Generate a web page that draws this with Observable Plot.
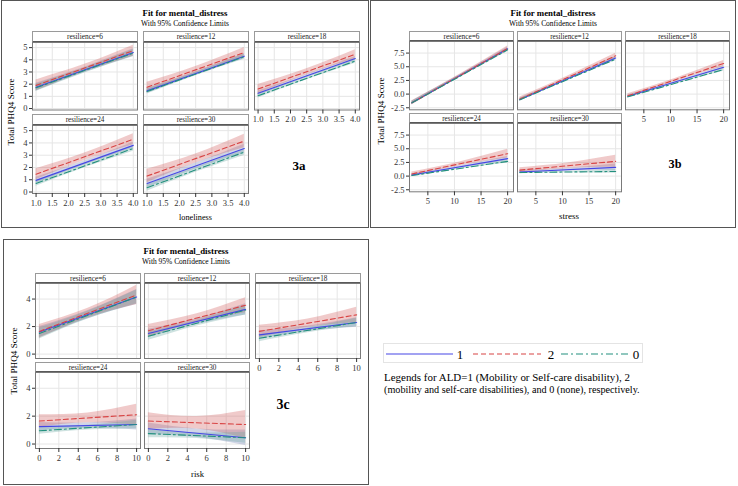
<!DOCTYPE html>
<html><head><meta charset="utf-8">
<script src="https://cdn.jsdelivr.net/npm/d3@7"></script>
<script src="https://cdn.jsdelivr.net/npm/@observablehq/plot@0.6"></script>
<style>
body{margin:0;background:#fff;}
#page{position:relative;width:738px;height:486px;overflow:hidden;font-family:"Liberation Serif","Times New Roman",serif;color:#000;}
.box{position:absolute;border:1px solid #555;box-sizing:border-box;}
.t{position:absolute;white-space:nowrap;transform:translate(-50%,-50%);line-height:1;}
.hdr{position:absolute;box-sizing:border-box;border:1px solid #9a9a9a;border-bottom:2px solid #5a5a5a;background:#fff;font-size:9px;text-align:center;color:#222;}
.abs{position:absolute;}
.abs svg{display:block;overflow:visible;}
.abs svg text{font-family:"Liberation Serif","Times New Roman",serif;}
</style>
</head><body><div id="page"></div>
<script>
// ---------- data ----------
const resilience = [6, 12, 18, 24, 30];
const aldGroups = ["1", "2", "0"];
const aldColors = ["#4646e6", "#d84444", "#23907e"];
const bandColors = ["#6f7eb3", "#d05b5b", "#66a5a0"];
const aldDash = [null, "5,3", "7,3,2,3"];

// Figure 3a: loneliness (fit at x = 1 and x = 4), per resilience
const lonX = [1, 4];
const lonFit1 = [[1.75, 4.6], [1.45, 4.3], [1.25, 4.1], [0.95, 3.8], [0.7, 3.55]];
const lonFit2 = [[1.9, 4.75], [1.75, 4.6], [1.6, 4.45], [1.45, 4.3], [1.3, 4.15]];
const lonFit0 = [[1.7, 4.55], [1.4, 4.25], [1.05, 3.9], [0.7, 3.55], [0.35, 3.25]];
// 95% CL half-widths at start, middle, end
const lonHW1 = [[0.32, 0.22, 0.3], [0.22, 0.15, 0.22], [0.18, 0.12, 0.18], [0.25, 0.17, 0.25], [0.35, 0.24, 0.35]];
const lonHW2 = [[0.45, 0.3, 0.45], [0.4, 0.27, 0.4], [0.38, 0.25, 0.38], [0.45, 0.3, 0.45], [0.55, 0.37, 0.55]];
const lonHW0 = [[0.3, 0.2, 0.3], [0.2, 0.13, 0.2], [0.18, 0.12, 0.18], [0.22, 0.15, 0.22], [0.28, 0.19, 0.28]];

// Figure 3b: stress (fit at x = 2 and x = 20)
const strX = [2, 20];
const strFit1 = [[-1.6, 8.3], [-1.0, 6.6], [-0.4, 4.9], [0.2, 3.2], [0.75, 1.6]];
const strFit2 = [[-1.6, 8.35], [-0.9, 7.0], [-0.3, 5.6], [0.4, 4.1], [1.1, 2.7]];
const strFit0 = [[-1.6, 8.1], [-1.05, 6.4], [-0.5, 4.5], [0.1, 2.7], [0.65, 0.85]];
const strHW1 = [[0.3, 0.2, 0.3], [0.25, 0.16, 0.3], [0.25, 0.16, 0.3], [0.25, 0.2, 0.4], [0.3, 0.25, 0.6]];
const strHW2 = [[0.4, 0.27, 0.45], [0.35, 0.25, 0.45], [0.35, 0.27, 0.55], [0.35, 0.35, 0.8], [0.45, 0.5, 1.1]];
const strHW0 = [[0.3, 0.2, 0.3], [0.25, 0.16, 0.3], [0.2, 0.14, 0.3], [0.2, 0.15, 0.3], [0.2, 0.15, 0.35]];

// Figure 3c: risk (fit at x = 0 and x = 10)
const rskX = [0, 10];
const rskFit1 = [[1.6, 4.15], [1.5, 3.25], [1.4, 2.3], [1.25, 1.4], [1.1, 0.45]];
const rskFit2 = [[1.65, 4.3], [1.7, 3.55], [1.65, 2.85], [1.65, 2.1], [1.65, 1.4]];
const rskFit0 = [[1.5, 4.15], [1.3, 3.2], [1.15, 2.3], [0.95, 1.4], [0.75, 0.45]];
const rskHW1 = [[0.4, 0.3, 0.55], [0.3, 0.2, 0.4], [0.3, 0.2, 0.35], [0.3, 0.2, 0.4], [0.4, 0.3, 0.55]];
const rskHW2 = [[0.5, 0.35, 0.7], [0.45, 0.3, 0.55], [0.45, 0.3, 0.55], [0.45, 0.35, 0.75], [0.6, 0.45, 1.0]];
const rskHW0 = [[0.4, 0.28, 0.5], [0.3, 0.2, 0.35], [0.25, 0.17, 0.3], [0.25, 0.17, 0.3], [0.3, 0.2, 0.4]];

const lonTicks = [1, 1.5, 2, 2.5, 3, 3.5, 4];
const lonYTicks = [0, 1, 2, 3, 4, 5];
const strTicks = [5, 10, 15, 20];
const strYTicks = [-2.5, 0, 2.5, 5, 7.5];
const rskTicks = [0, 2, 4, 6, 8, 10];
const rskYTicks = [0, 2, 4];

const titleText = "Fit for mental_distress";
const subtitleText = "With 95% Confidence Limits";
const yLabelText = "Total PHQ4 Score";
const legendNote = ["Legends for ALD=1 (Mobility or Self-care disability), 2",
  "(mobility and self-care disabilities), and 0 (none), respectively."];

// ---------- helpers ----------
const page = document.getElementById("page");
function el(cls, css, html) {
  const d = document.createElement("div");
  d.className = cls; Object.assign(d.style, css);
  if (html != null) d.textContent = html;
  page.appendChild(d); return d;
}
// scale the font so the text occupies the width it has in the reference
function fitWidth(node, target) {
  const fs = parseFloat(getComputedStyle(node).fontSize);
  const w = node.offsetWidth;
  if (w > 0) node.style.fontSize = (fs * target / w).toFixed(2) + "px";
}

function buildRows(xs, fits, hws, ri) {
  const bands = [], lines = [];
  aldGroups.forEach((g, gi) => {
    const f = fits[gi][ri], hw = hws[gi][ri];
    const xm = (xs[0] + xs[1]) / 2, fm = (f[0] + f[1]) / 2;
    const bx = [xs[0], xm, xs[1]], bf = [f[0], fm, f[1]];
    bx.forEach((x, k) => bands.push({g, x, lo: bf[k] - hw[k], hi: bf[k] + hw[k]}));
    xs.forEach((x, k) => lines.push({g, x, y: f[k]}));
  });
  return {bands, lines};
}

function panel(o) {
  const ML = 28, MB = 18, MT = 1, MR = 1;
  const {bands, lines} = buildRows(o.xs, o.fits, o.hws, o.ri);
  const marks = [
    Plot.gridX(o.xTicks, {stroke: "#e6e6e6", strokeOpacity: 1}),
    Plot.gridY(o.yTicks, {stroke: "#e6e6e6", strokeOpacity: 1})
  ];
  aldGroups.forEach((g, gi) => {
    marks.push(Plot.areaY(bands.filter(d => d.g === g), {x: "x", y1: "lo", y2: "hi", fill: bandColors[gi], fillOpacity: 0.32, curve: "natural", clip: true}));
  });
  aldGroups.forEach((g, gi) => {
    marks.push(Plot.line(lines.filter(d => d.g === g), {x: "x", y: "y", stroke: aldColors[gi], strokeWidth: 1.1, strokeDasharray: aldDash[gi], clip: true}));
  });
  marks.push(Plot.frame({stroke: "#7a7a7a"}));
  if (o.showY) marks.push(Plot.axisY(o.yTicks, {tickSize: 3, tickPadding: 2, tickFormat: o.yFmt, fontSize: 8.5, color: "#333", label: null}));
  if (o.showX) marks.push(Plot.axisX(o.xTicks, {tickSize: 4, tickPadding: 2, tickFormat: o.xFmt, fontSize: 8.5, color: "#333", label: null}));
  const svg = Plot.plot({
    width: o.w + ML + MR, height: o.h + MT + MB,
    marginLeft: ML, marginRight: MR, marginTop: MT, marginBottom: MB,
    x: {domain: o.xDomain, axis: null},
    y: {domain: o.yDomain, axis: null},
    style: {fontFamily: "'Liberation Serif','Times New Roman',serif", background: "transparent", overflow: "visible"},
    marks
  });
  const holder = el("abs", {left: (o.left - ML) + "px", top: (o.top - MT) + "px"});
  holder.appendChild(svg);
}

function figure(f) {
  el("box", {left: f.box[0] + "px", top: f.box[1] + "px", width: f.box[2] + "px", height: f.box[3] + "px"});
  const cx = f.box[0] + f.box[2] / 2;
  fitWidth(el("t", {left: cx + "px", top: f.titleY + "px", fontSize: "10.5px", fontWeight: "bold"}, titleText), 85);
  fitWidth(el("t", {left: cx + "px", top: (f.titleY + 11) + "px", fontSize: "9px"}, subtitleText), 88);
  const cells = [[0, 0], [1, 0], [2, 0], [0, 1], [1, 1]];
  resilience.forEach((r, ri) => {
    const [c, row] = cells[ri];
    const left = f.cols[c], w = f.pw;
    const h = el("hdr", {left: left + "px", top: f.hdrTop[row] + "px", width: (w + 1) + "px", height: (f.plotTop[row] - f.hdrTop[row] + 1) + "px", lineHeight: (f.plotTop[row] - f.hdrTop[row] - 2) + "px"});
    const sp = document.createElement("span");
    sp.textContent = "resilience=" + r; h.appendChild(sp);
    const fs = 9 * (r < 10 ? 36 : 39) / Math.max(1, sp.offsetWidth);
    sp.style.fontSize = fs.toFixed(2) + "px";
    panel({
      left, top: f.plotTop[row], w, h: f.ph[row],
      xs: f.xs, fits: f.fits, hws: f.hws, ri,
      xDomain: f.xDomain, yDomain: f.yDomain,
      xTicks: f.xTicks, yTicks: f.yTicks, xFmt: f.xFmt, yFmt: f.yFmt,
      showY: c === 0, showX: row === 1 || c === 2
    });
  });
  const pl = f.cols[0], pr = f.cols[2] + f.pw;
  fitWidth(el("t", {left: ((pl + pr) / 2) + "px", top: f.xLabelY + "px", fontSize: "10px"}, f.xLabel), f.xLabelW);
  const yc = (f.hdrTop[0] + f.plotTop[1] + f.ph[1]) / 2;
  fitWidth(el("t", {left: f.yLabelX + "px", top: yc + "px", fontSize: "10px", transform: "translate(-50%,-50%) rotate(-90deg)"}, yLabelText), 67);
  fitWidth(el("t", {left: f.tag[0] + "px", top: f.tag[1] + "px", fontSize: "16px", fontWeight: "bold"}, f.tag[2]), 13);
}

figure({
  box: [1, 0, 368, 228], titleY: 13,
  cols: [32, 143, 254], pw: 105,
  hdrTop: [31, 114], plotTop: [42, 125], ph: [67.5, 68],
  xs: lonX, fits: [lonFit1, lonFit2, lonFit0], hws: [lonHW1, lonHW2, lonHW0],
  xDomain: [0.89, 4.13], yDomain: [-0.12, 5.42],
  xTicks: lonTicks, yTicks: lonYTicks, xFmt: d => d.toFixed(1), yFmt: d => String(d),
  xLabel: "loneliness", xLabelW: 33, xLabelY: 218, yLabelX: 12, tag: [299, 165, "3a"]
});
figure({
  box: [370, 0, 366, 228], titleY: 13,
  cols: [409, 517, 625], pw: 104,
  hdrTop: [30.5, 112.5], plotTop: [40.7, 122.7], ph: [68.3, 68.3],
  xs: strX, fits: [strFit1, strFit2, strFit0], hws: [strHW1, strHW2, strHW0],
  xDomain: [1.55, 21.1], yDomain: [-2.87, 9.62],
  xTicks: strTicks, yTicks: strYTicks, xFmt: d => String(d), yFmt: d => d.toFixed(1),
  xLabel: "stress", xLabelW: 20, xLabelY: 217, yLabelX: 382, tag: [675, 164, "3b"]
});
figure({
  box: [3, 239, 366, 246], titleY: 251,
  cols: [35, 144, 255], pw: 105,
  hdrTop: [272.7, 361.7], plotTop: [282.7, 372.3], ph: [75, 76],
  xs: rskX, fits: [rskFit1, rskFit2, rskFit0], hws: [rskHW1, rskHW2, rskHW0],
  xDomain: [-0.4, 10.4], yDomain: [-0.32, 5.13],
  xTicks: rskTicks, yTicks: rskYTicks, xFmt: d => String(d), yFmt: d => String(d),
  xLabel: "risk", xLabelW: 13, xLabelY: 474, yLabelX: 15, tag: [283, 405, "3c"]
});

// ---------- legend ----------
const lg = el("abs", {left: "383px", top: "343px", width: "260px", height: "20px", border: "1px solid #e4e4e4", boxSizing: "border-box"});
const ns = "http://www.w3.org/2000/svg";
const lsvg = document.createElementNS(ns, "svg");
lsvg.setAttribute("width", "260"); lsvg.setAttribute("height", "20");
const segs = [[2, 69, 76], [89, 157, 167], [177, 245, 252]];
aldGroups.forEach((g, gi) => {
  const ln = document.createElementNS(ns, "line");
  ln.setAttribute("x1", segs[gi][0]); ln.setAttribute("x2", segs[gi][1]);
  ln.setAttribute("y1", 10); ln.setAttribute("y2", 10);
  ln.setAttribute("stroke", aldColors[gi]); ln.setAttribute("stroke-width", 1.2);
  if (aldDash[gi]) ln.setAttribute("stroke-dasharray", aldDash[gi]);
  lsvg.appendChild(ln);
  const tx = document.createElementNS(ns, "text");
  tx.setAttribute("x", segs[gi][2]); tx.setAttribute("y", 14.5);
  tx.setAttribute("font-size", "13"); tx.setAttribute("font-family", "Liberation Serif, serif");
  tx.setAttribute("text-anchor", "middle");
  tx.textContent = g;
  lsvg.appendChild(tx);
});
lg.appendChild(lsvg);
legendNote.forEach((s, i) => {
  const d = el("abs", {left: "384px", top: (371 + i * 12.5) + "px", fontSize: "11px", whiteSpace: "nowrap", lineHeight: "12px"}, s);
  fitWidth(d, i === 0 ? 246 : 256);
});
</script>
</body></html>
